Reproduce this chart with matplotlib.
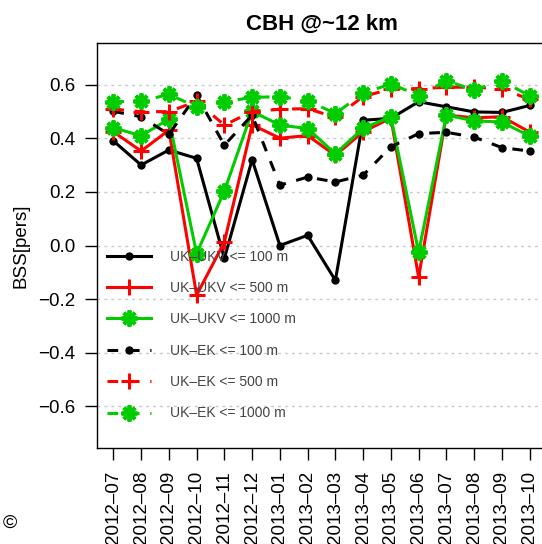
import matplotlib
matplotlib.use("Agg")
import matplotlib.pyplot as plt
import numpy as np

# months on the x axis
months = ['2012–07', '2012–08', '2012–09', '2012–10', '2012–11', '2012–12',
          '2013–01', '2013–02', '2013–03', '2013–04', '2013–05', '2013–06',
          '2013–07', '2013–08', '2013–09', '2013–10']

# BSS values
ukv100 = [0.39, 0.30, 0.356, 0.325, -0.048, 0.32, 0.00, 0.038, -0.13, 0.467,
          0.474, 0.536, 0.517, 0.498, 0.496, 0.522]
ukv500 = [0.424, 0.352, 0.43, -0.185, 0.013, 0.45, 0.40, 0.41, 0.336, 0.424,
          0.475, -0.118, 0.486, 0.476, 0.48, 0.423]
ukv1000 = [0.439, 0.409, 0.471, -0.03, 0.203, 0.50, 0.449, 0.436, 0.342, 0.437,
           0.48, -0.025, 0.486, 0.465, 0.46, 0.408]
ek100 = [0.50, 0.48, 0.414, 0.56, 0.374, 0.486, 0.225, 0.255, 0.237, 0.262,
         0.368, 0.417, 0.422, 0.404, 0.365, 0.352]
ek500 = [0.508, 0.499, 0.499, 0.537, 0.449, 0.499, 0.508, 0.51, 0.478, 0.555,
         0.584, 0.585, 0.59, 0.59, 0.584, 0.545]
ek1000 = [0.536, 0.538, 0.563, 0.517, 0.536, 0.552, 0.555, 0.54, 0.492, 0.567,
          0.603, 0.559, 0.614, 0.58, 0.614, 0.558]

labels = ['UK–UKV <= 100 m', 'UK–UKV <= 500 m', 'UK–UKV <= 1000 m',
          'UK–EK <= 100 m', 'UK–EK <= 500 m', 'UK–EK <= 1000 m']

yticks = [-0.6, -0.4, -0.2, 0.0, 0.2, 0.4, 0.6]
ytick_labels = ['−0.6', '−0.4', '−0.2', '0.0', '0.2', '0.4', '0.6']

plt.rcParams['font.family'] = ['Liberation Sans', 'DejaVu Sans']

fig = plt.figure(figsize=(5.42, 5.44), dpi=100)
ax = fig.add_axes([96.7 / 542, 1 - 448.3 / 544, 449.6 / 542, 405.6 / 544])

x = np.arange(len(months))
lw = 2.2
dash = (3.5, 3.5)

styles = [
    (ukv100, 'black', 'o', 6, 0, None),
    (ukv500, '#ff0000', '+', 11, 2.2, None),
    (ukv1000, '#00cc00', (8, 2, 0), 11.5, 2.8, None),
    (ek100, 'black', 'o', 6, 0, dash),
    (ek500, '#ff0000', '+', 11, 2.2, dash),
    (ek1000, '#00cc00', (8, 2, 0), 11.5, 2.8, dash),
]

for (vals, col, mk, ms, mew, ds), lab in zip(styles, labels):
    line, = ax.plot(x, vals, color=col, lw=lw, marker=mk, ms=ms,
                    mew=mew, mec=col, mfc=col, label=lab)
    if ds is not None:
        line.set_dashes(ds)

ax.set_xlim(-0.6, len(months) - 1 + 0.6)
ax.set_ylim(-0.756, 0.756)

ax.set_yticks(yticks)
ax.set_yticklabels(ytick_labels)
ax.set_xticks(x)
ax.set_xticklabels(months, rotation=90)

for v in yticks:
    ax.axhline(v, color='#c8c8c8', lw=1, ls=(0, (2, 3)), zorder=0)

ax.tick_params(axis='y', labelsize=13.5, length=8.4, width=1, pad=7)
ax.tick_params(axis='x', labelsize=13.5, length=8.4, width=1, pad=8)
ax.spines['right'].set_visible(False)
for s in ['left', 'top', 'bottom']:
    ax.spines[s].set_linewidth(1)

ax.set_ylabel('BSS[pers]', fontsize=13.5, labelpad=6)
ax.set_title('CBH @~12 km', fontsize=16, fontweight='bold', pad=9)

leg = ax.legend(loc='upper left', bbox_to_anchor=(0.022, 0.49), frameon=False,
                fontsize=10, handlelength=3.2, handletextpad=1.4,
                labelspacing=1.25, borderpad=0, borderaxespad=0)
for t in leg.get_texts():
    t.set_color('#444444')

fig.text(10 / 542, 1 - 523 / 544, '©', fontsize=14, ha='center', va='center')

fig.savefig('out.png', dpi=100)
